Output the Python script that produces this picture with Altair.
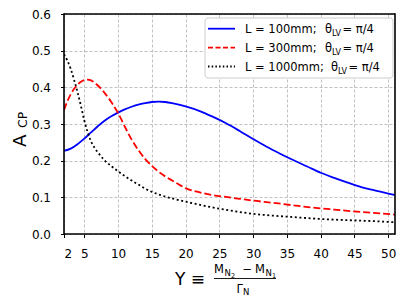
import altair as alt
import pandas as pd

FONT = "DejaVu Sans"

# ---- data ----
blue_x = [2, 3, 4, 5, 6, 7, 8, 9, 10, 11, 12, 13, 14, 15, 16, 17, 18, 19, 20, 22, 24, 26, 28, 30, 32, 34, 36, 38, 40, 42, 44, 46, 48, 50, 51]
blue_y = [0.227, 0.233, 0.245, 0.260, 0.277, 0.294, 0.309, 0.321, 0.331, 0.340, 0.347, 0.353, 0.357, 0.360, 0.361, 0.360, 0.357, 0.353, 0.348, 0.336, 0.320, 0.302, 0.281, 0.259, 0.238, 0.219, 0.201, 0.184, 0.167, 0.153, 0.140, 0.128, 0.119, 0.110, 0.106]

red_x = [2, 2.5, 3, 3.5, 4, 4.5, 5, 5.5, 6, 6.5, 7, 7.5, 8, 9, 10, 11, 12, 13, 14, 15, 16, 17, 18, 19, 20, 22, 24, 26, 28, 30, 33, 36, 40, 43, 46, 49, 51]
red_y = [0.338, 0.362, 0.381, 0.396, 0.407, 0.415, 0.420, 0.421, 0.419, 0.413, 0.405, 0.396, 0.385, 0.360, 0.330, 0.293, 0.258, 0.229, 0.205, 0.186, 0.170, 0.157, 0.146, 0.135, 0.125, 0.114, 0.106, 0.101, 0.096, 0.091, 0.085, 0.078, 0.070, 0.065, 0.060, 0.056, 0.053]

black_x = [2, 2.5, 3, 3.5, 4, 4.5, 5, 5.5, 6, 6.5, 7, 8, 9, 10, 11, 12, 13, 14, 15, 16, 17, 18, 20, 22, 25, 28, 30, 33, 36, 40, 45, 48, 51]
black_y = [0.490, 0.473, 0.450, 0.420, 0.387, 0.350, 0.310, 0.278, 0.253, 0.236, 0.223, 0.201, 0.185, 0.171, 0.158, 0.146, 0.135, 0.124, 0.115, 0.108, 0.102, 0.097, 0.088, 0.080, 0.069, 0.060, 0.055, 0.050, 0.046, 0.041, 0.037, 0.035, 0.032]

x_ticks = [2, 5, 10, 15, 20, 25, 30, 35, 40, 45, 50]
y_ticks = [0.0, 0.1, 0.2, 0.3, 0.4, 0.5, 0.6]
x_domain = [2, 51]
y_domain = [0, 0.6]

legend_main = ["L = 100mm;", "L = 300mm;", "L = 1000mm;"]
legend_tail = "= π/4"

W, H = 331, 220

xscale = alt.Scale(domain=x_domain, nice=False, zero=False)
yscale = alt.Scale(domain=y_domain, nice=False, zero=False)
xaxis = alt.Axis(values=x_ticks, title=None, grid=True)
yaxis = alt.Axis(values=y_ticks, title=None, format=".1f", grid=True)


def line_layer(xs, ys, color, dash=None, sw=1.8):
    df = pd.DataFrame({"Y": xs, "A": ys})
    kw = dict(color=color, strokeWidth=sw, clip=True, strokeCap="butt", interpolate="monotone")
    if dash:
        kw["strokeDash"] = dash
    return alt.Chart(df).mark_line(**kw).encode(
        x=alt.X("Y:Q", scale=xscale, axis=xaxis),
        y=alt.Y("A:Q", scale=yscale, axis=yaxis),
    )


def one():
    return pd.DataFrame({"a": [0]})


def txt(s, x, y, size, align="left", baseline="alphabetic", angle=0):
    return alt.Chart(pd.DataFrame({"t": [s]})).mark_text(
        align=align, baseline=baseline, fontSize=size, angle=angle,
        color="black", font=FONT
    ).encode(x=alt.value(x), y=alt.value(y), text="t:N")


def hrule(x1, x2, y, color="black", sw=1.6, dash=None):
    kw = dict(color=color, strokeWidth=sw, strokeCap="butt")
    if dash:
        kw["strokeDash"] = dash
    return alt.Chart(one()).mark_rule(**kw).encode(
        x=alt.value(x1), x2=alt.value(x2), y=alt.value(y))


def vrule(x, y1, y2, color="black", sw=1.6):
    return alt.Chart(one()).mark_rule(color=color, strokeWidth=sw, strokeCap="square").encode(
        x=alt.value(x), y=alt.value(y1), y2=alt.value(y2))


layers = [
    line_layer(blue_x, blue_y, "#0000ff"),
    line_layer(red_x, red_y, "#ff0000", dash=[7, 3]),
    line_layer(black_x, black_y, "#000000", dash=[2, 2.6]),
]

# frame
layers += [hrule(0, W, 0), hrule(0, W, H), vrule(0, 0, H), vrule(W, 0, H)]

# legend box
layers.append(alt.Chart(one()).mark_rect(fill="white", stroke="#cccccc", strokeWidth=1, cornerRadius=3).encode(
    x=alt.value(141), x2=alt.value(329), y=alt.value(4), y2=alt.value(64)))

styles = [("#0000ff", None), ("#ff0000", [5, 2.5]), ("#000000", [1.5, 2.2])]
row_line_y = [14.7, 33.6, 52.5]
row_base_y = [19.2, 38.1, 57.0]
theta_x = [261, 261, 267]
for i in range(3):
    col, dash = styles[i]
    layers.append(hrule(144, 171, row_line_y[i], color=col, sw=1.8, dash=dash))
    layers.append(txt(legend_main[i], 181, row_base_y[i], 11.5))
    layers.append(txt("θ", theta_x[i], row_base_y[i], 11.5))
    layers.append(txt("LV", theta_x[i] + 7, row_base_y[i] + 2.5, 8))
    layers.append(txt(legend_tail, theta_x[i] + 17.5, row_base_y[i], 11.5))

# y title  A_CP
layers.append(txt("A", -38, 133, 18.5, angle=270))
layers.append(txt("CP", -37.5, 114, 12.5, angle=270))

# x title  Y = (M_N2 - M_N1) / Gamma_N
layers.append(txt("Y ≡", 111, 271, 17))
layers.append(txt("M", 150, 259.3, 11.5))
layers.append(txt("N", 160.5, 262, 8.5))
layers.append(txt("2", 167, 263.5, 6.5))
layers.append(txt("−", 178.5, 259.3, 11.5))
layers.append(txt("M", 191, 259.3, 11.5))
layers.append(txt("N", 201.5, 262, 8.5))
layers.append(txt("1", 208, 263.5, 6.5))
layers.append(hrule(150, 212, 264.5, sw=0.9))
layers.append(txt("Γ", 172.5, 278.5, 11.5))
layers.append(txt("N", 179, 281, 8.5))

chart = alt.layer(*layers).properties(
    width=W, height=H,
    padding={"left": 56, "top": 6, "right": 4, "bottom": 68},
    autosize=alt.AutoSizeParams(type="none"),
).configure_view(stroke=None).configure_axis(
    domain=False,
    gridColor="#b0b0b0", gridDash=[3, 2], gridWidth=0.8,
    tickColor="black", tickSize=3.5, tickWidth=1,
    labelFont=FONT, labelFontSize=12, labelColor="black",
).configure_axisX(labelPadding=11).configure_axisY(labelPadding=10)

chart.save("out.html", embed_options={"renderer": "svg", "actions": False})
